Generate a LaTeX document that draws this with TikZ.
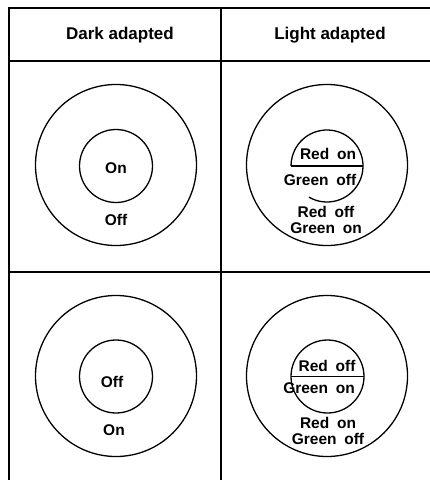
\documentclass[tikz,border=0pt]{standalone}
\usepackage{fontspec}
\setmainfont{Liberation Sans}
\usepackage{tikz}
\usetikzlibrary{
    positioning,
    calc
}
\newcommand{\fieldfont}{\fontsize{15.5}{16.5}\selectfont\bfseries\spaceskip=0.5em\relax}
\tikzstyle{ring} = [
    circle,
    draw,
    line width=1.3pt,
    inner sep=0pt,
    outer sep=0pt
]
\tikzstyle{heading} = [
    font=\fontsize{17}{20}\selectfont\bfseries
]
\tikzstyle{field} = [
    font=\fieldfont,
    align=center,
    inner sep=0pt
]
\tikzstyle{rule} = [
    line width=2pt
]

\begin{document}
\begin{tikzpicture}[x=1pt, y=-1pt]
        \useasboundingbox (0,0) rectangle (430,480);

        % Table
        \draw[rule] (9,480) -- (9,8) -- (430,8);
        \draw[rule] (9,61) -- (430,61);
        \draw[rule] (9,272) -- (430,272);
        \draw[rule] (221,8) -- (221,480);

        % Headings
        \node[heading] (dark_head) at (120,35) {Dark adapted};
        \node[heading] (light_head) at (330,35) {Light adapted};

        % Dark adapted, top
        \node[ring, minimum size=161pt] (dark_on_out) at (116,165) {};
        \node[ring, minimum size=73pt] (dark_on_in) at (116,166) {};
        \node[field] (dark_on_c) at (116,168) {On};
        \node[field] (dark_on_s) at (116,220) {Off};

        % Light adapted, top
        \node[ring, minimum size=161pt] (light_on_out) at (327,165) {};
        \node[circle, minimum size=72pt, inner sep=0pt, outer sep=0pt] (light_on_in) at (327,166) {};
        \draw[line width=1.3pt] (light_on_in.240) arc[start angle=240, end angle=540, radius=36pt];
        \draw[line width=1.3pt] (light_on_in.west) -- (light_on_in.east);
        \node[field] (light_on_c1) at (328,154) {Red on};
        \node[field] (light_on_c2) at (320,180) {Green off};
        \node[field] (light_on_s) at (326,220) {Red off\\Green on};

        % Dark adapted, bottom
        \node[ring, minimum size=161pt] (dark_off_out) at (116,376) {};
        \node[ring, minimum size=73pt] (dark_off_in) at (116,376.5) {};
        \node[field] (dark_off_c) at (112,382) {Off};
        \node[field] (dark_off_s) at (114,430) {On};

        % Light adapted, bottom
        \node[ring, minimum size=161pt] (light_off_out) at (327,376) {};
        \node[ring, minimum size=73pt] (light_off_in) at (327.5,376.5) {};
        \draw[line width=1.3pt] (light_off_in.west) -- (light_off_in.east);
        \node[field] (light_off_c1) at (327,366) {Red off};
        \node[field] (light_off_c2) at (319,388) {Green on};
        \node[field] (light_off_s) at (328,431) {Red on\\Green off};
    \end{tikzpicture}
\end{document}
